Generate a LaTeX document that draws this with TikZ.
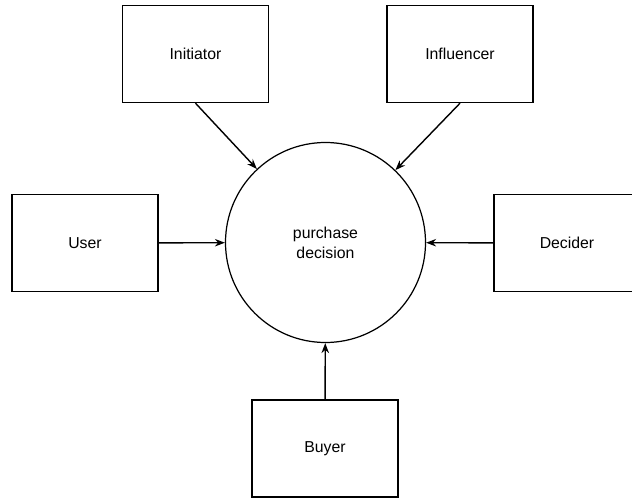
\documentclass[tikz,border=0pt]{standalone}
\usepackage{fontspec}
\setmainfont{Liberation Sans}
\usetikzlibrary{arrows.meta}
\tikzset{
  role/.style = {draw, line width = 0.8pt, minimum width = 2.92cm, minimum height = 1.94cm, font = \fontsize{9}{11}\selectfont},
  hub/.style = {draw, circle, line width = 0.7pt, minimum size = 4cm, align = center, font = \fontsize{9}{11.4}\selectfont},
  conn/.style = {line width = 0.8pt, -{Stealth[length = 2mm, width = 1.5mm]}}
}
\begin{document}
\begin{tikzpicture}
\clip (0,0) rectangle (12.64,-9.96);
\node [hub] (pd) at (6.51,-4.85) {purchase\\decision};
\node [role] (init) at (3.91,-1.08) {Initiator};
\node [role] (infl) at (9.2,-1.08) {Influencer};
\node [role] (user) at (1.7,-4.86) {User};
\node [role] (decid) at (11.34,-4.86) {Decider};
\node [role] (buyer) at (6.5,-8.97) {Buyer};
\draw [conn] (init.south) -- (pd);
\draw [conn] (infl.south) -- (pd);
\draw [conn] (user) -- (pd);
\draw [conn] (decid) -- (pd);
\draw [conn] (buyer) -- (pd);
\end{tikzpicture}
\end{document}
